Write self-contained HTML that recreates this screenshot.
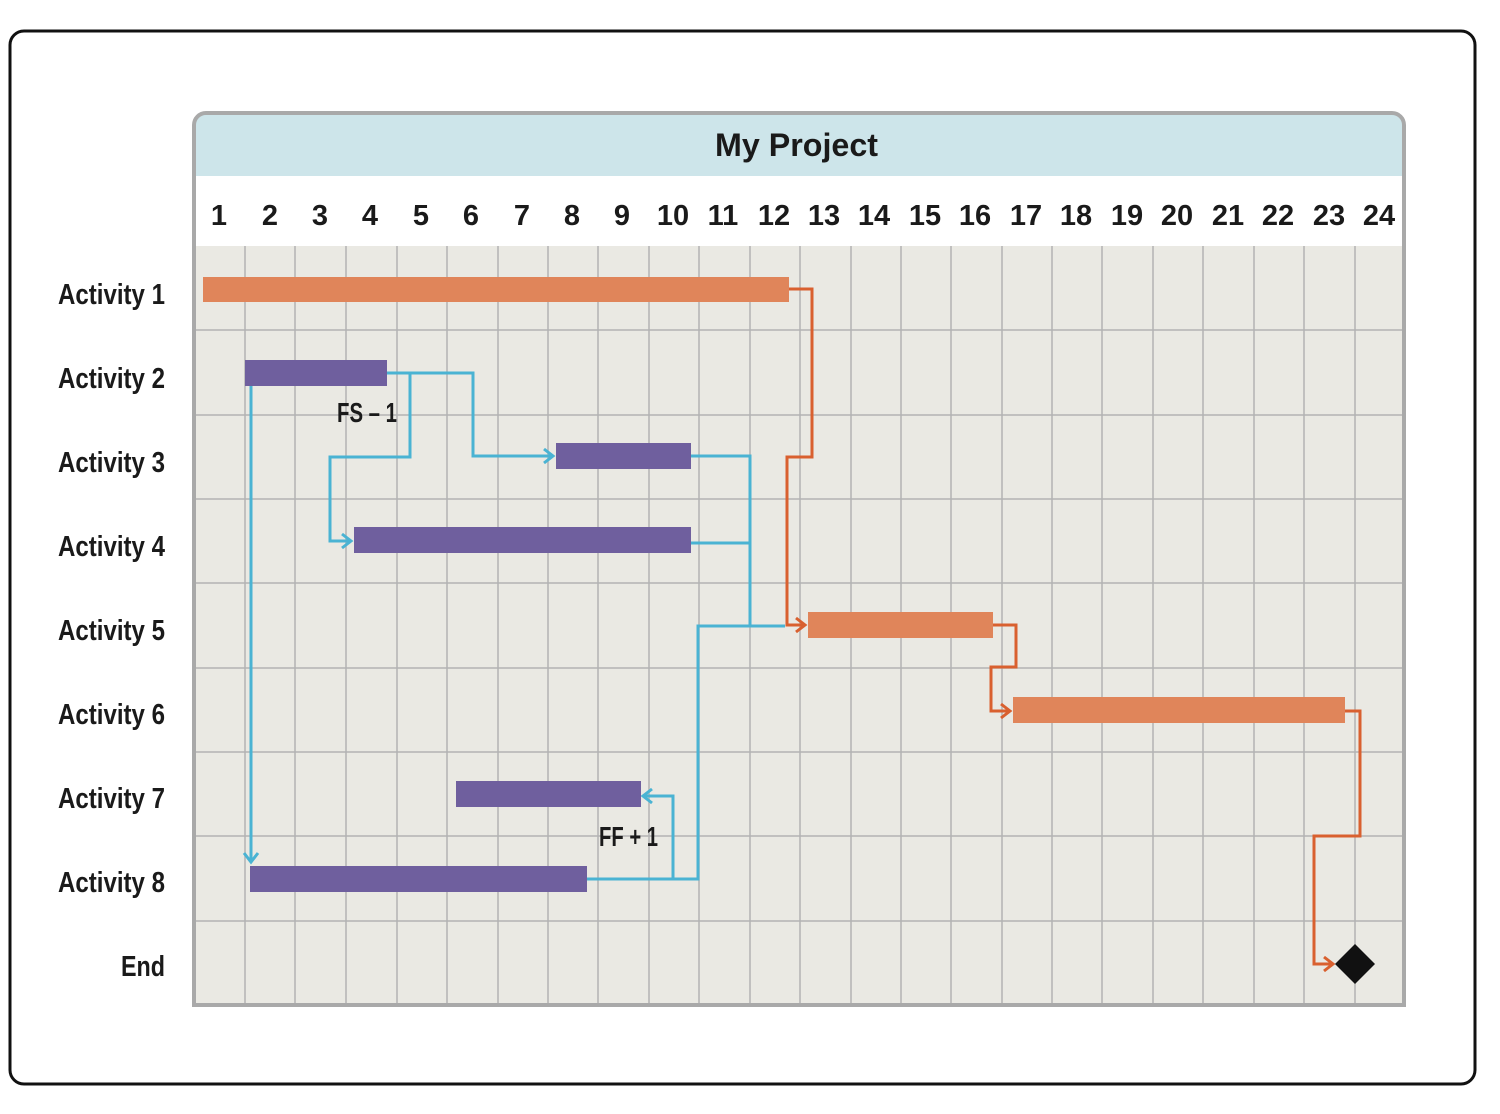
<!DOCTYPE html>
<html><head><meta charset="utf-8"><style>
html,body{margin:0;padding:0;background:#fff;width:1500px;height:1114px;overflow:hidden}
text{font-family:"Liberation Sans Narrow","Liberation Sans",sans-serif;font-weight:bold;fill:#1a1a1a}
</style></head><body>
<svg width="1500" height="1114" viewBox="0 0 1500 1114" xmlns="http://www.w3.org/2000/svg">
<defs>
<marker id="ab" markerWidth="16" markerHeight="18" refX="12" refY="9" orient="auto" markerUnits="userSpaceOnUse"><path d="M3,2 L12,9 L3,16" fill="none" stroke="#4ab3d3" stroke-width="3"/></marker>
<marker id="ao" markerWidth="16" markerHeight="18" refX="12" refY="9" orient="auto" markerUnits="userSpaceOnUse"><path d="M3,2 L12,9 L3,16" fill="none" stroke="#d9602f" stroke-width="3"/></marker>
</defs>
<rect x="10" y="31" width="1465" height="1053" rx="14" fill="#fff" stroke="#111" stroke-width="3"/>
<path d="M194,176 V125 a12,12 0 0 1 12,-12 H1392 a12,12 0 0 1 12,12 V176 Z" fill="#cde5ea"/>
<rect x="194" y="176" width="1210" height="70" fill="#fff"/>
<rect x="194" y="246" width="1210" height="759" fill="#eae9e3"/>
<g stroke="#b3b3b3" stroke-width="1.5">
<line x1="245" y1="246" x2="245" y2="1005"/><line x1="295" y1="246" x2="295" y2="1005"/><line x1="346" y1="246" x2="346" y2="1005"/><line x1="397" y1="246" x2="397" y2="1005"/><line x1="447" y1="246" x2="447" y2="1005"/><line x1="498" y1="246" x2="498" y2="1005"/><line x1="548" y1="246" x2="548" y2="1005"/><line x1="598" y1="246" x2="598" y2="1005"/><line x1="649" y1="246" x2="649" y2="1005"/><line x1="699" y1="246" x2="699" y2="1005"/><line x1="750" y1="246" x2="750" y2="1005"/><line x1="800" y1="246" x2="800" y2="1005"/><line x1="851" y1="246" x2="851" y2="1005"/><line x1="901" y1="246" x2="901" y2="1005"/><line x1="951" y1="246" x2="951" y2="1005"/><line x1="1002" y1="246" x2="1002" y2="1005"/><line x1="1052" y1="246" x2="1052" y2="1005"/><line x1="1102" y1="246" x2="1102" y2="1005"/><line x1="1153" y1="246" x2="1153" y2="1005"/><line x1="1203" y1="246" x2="1203" y2="1005"/><line x1="1254" y1="246" x2="1254" y2="1005"/><line x1="1304" y1="246" x2="1304" y2="1005"/><line x1="1355" y1="246" x2="1355" y2="1005"/>
<line x1="194" y1="330" x2="1404" y2="330"/><line x1="194" y1="415" x2="1404" y2="415"/><line x1="194" y1="499" x2="1404" y2="499"/><line x1="194" y1="583" x2="1404" y2="583"/><line x1="194" y1="668" x2="1404" y2="668"/><line x1="194" y1="752" x2="1404" y2="752"/><line x1="194" y1="836" x2="1404" y2="836"/><line x1="194" y1="921" x2="1404" y2="921"/>
</g>
<path d="M194,1005 V125 a12,12 0 0 1 12,-12 H1392 a12,12 0 0 1 12,12 V1005 Z" fill="none" stroke="#a9a9a9" stroke-width="4"/>
<text x="715" y="156" font-size="32" textLength="163" lengthAdjust="spacingAndGlyphs">My Project</text>
<g font-size="29" text-anchor="middle">
<text x="219" y="225">1</text><text x="270" y="225">2</text><text x="320" y="225">3</text><text x="370" y="225">4</text><text x="421" y="225">5</text><text x="471" y="225">6</text><text x="522" y="225">7</text><text x="572" y="225">8</text><text x="622" y="225">9</text><text x="673" y="225">10</text><text x="723" y="225">11</text><text x="774" y="225">12</text><text x="824" y="225">13</text><text x="874" y="225">14</text><text x="925" y="225">15</text><text x="975" y="225">16</text><text x="1026" y="225">17</text><text x="1076" y="225">18</text><text x="1127" y="225">19</text><text x="1177" y="225">20</text><text x="1228" y="225">21</text><text x="1278" y="225">22</text><text x="1329" y="225">23</text><text x="1379" y="225">24</text>
</g>
<g font-size="29">
<text x="58" y="304" textLength="107" lengthAdjust="spacingAndGlyphs">Activity 1</text>
<text x="58" y="388" textLength="107" lengthAdjust="spacingAndGlyphs">Activity 2</text>
<text x="58" y="472" textLength="107" lengthAdjust="spacingAndGlyphs">Activity 3</text>
<text x="58" y="556" textLength="107" lengthAdjust="spacingAndGlyphs">Activity 4</text>
<text x="58" y="640" textLength="107" lengthAdjust="spacingAndGlyphs">Activity 5</text>
<text x="58" y="724" textLength="107" lengthAdjust="spacingAndGlyphs">Activity 6</text>
<text x="58" y="808" textLength="107" lengthAdjust="spacingAndGlyphs">Activity 7</text>
<text x="58" y="892" textLength="107" lengthAdjust="spacingAndGlyphs">Activity 8</text>
<text x="121" y="976" textLength="44" lengthAdjust="spacingAndGlyphs">End</text>
</g>
<g fill="none" stroke="#4ab3d3" stroke-width="3">
<path d="M387,373 H473 V456 H553" marker-end="url(#ab)"/>
<path d="M410,373 V457 H330 V541 H351" marker-end="url(#ab)"/>
<path d="M251,373 V862" marker-end="url(#ab)"/>
<path d="M691,456 H750 V626"/>
<path d="M691,543 H750"/>
<path d="M785,626 H698 V879 H587"/>
<path d="M673,879 V796 H643" marker-end="url(#ab)"/>
</g>
<g fill="none" stroke="#d9602f" stroke-width="3">
<path d="M789,289 H812 V457 H787 V625 H805" marker-end="url(#ao)"/>
<path d="M993,625 H1016 V667 H991 V711 H1010" marker-end="url(#ao)"/>
<path d="M1345,711 H1360 V836 H1314 V964 H1333" marker-end="url(#ao)"/>
</g>
<g fill="#e0855a"><rect x="203" y="277" width="586" height="25"/><rect x="808" y="612" width="185" height="26"/><rect x="1013" y="697" width="332" height="26"/></g>
<g fill="#6f5f9e"><rect x="245" y="360" width="142" height="26"/><rect x="556" y="443" width="135" height="26"/><rect x="354" y="527" width="337" height="26"/><rect x="456" y="781" width="185" height="26"/><rect x="250" y="866" width="337" height="26"/></g>
<path d="M1355,944 L1375,964 L1355,984 L1335,964 Z" fill="#111"/>
<text x="337" y="422" font-size="28" textLength="60" lengthAdjust="spacingAndGlyphs">FS – 1</text>
<text x="599" y="846" font-size="28" textLength="59" lengthAdjust="spacingAndGlyphs">FF + 1</text>
</svg>
</body></html>
